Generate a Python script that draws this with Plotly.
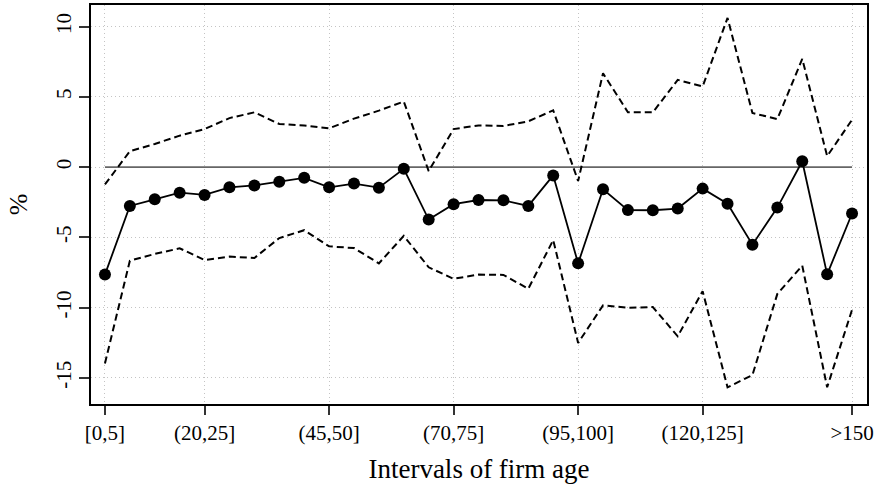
import plotly.graph_objects as go

categories = ["[0,5]"] + [f"({a},{a+5}]" for a in range(5, 150, 5)] + [">150"]

estimate = [-7.65, -2.76, -2.29, -1.82, -1.98, -1.44, -1.30, -1.04, -0.76, -1.44,
            -1.17, -1.46, -0.12, -3.73, -2.64, -2.34, -2.36, -2.76, -0.59, -6.85,
            -1.58, -3.06, -3.07, -2.95, -1.53, -2.60, -5.52, -2.88, 0.42, -7.63,
            -3.30]

upper = [-1.23, 1.13, 1.65, 2.24, 2.71, 3.49, 3.90, 3.07, 2.97, 2.76,
         3.45, 4.02, 4.67, -0.28, 2.71, 2.97, 2.93, 3.26, 4.04, -0.99,
         6.68, 3.91, 3.90, 6.21, 5.74, 10.62, 3.85, 3.42, 7.70, 0.78,
         3.37]

lower = [-13.97, -6.66, -6.18, -5.78, -6.61, -6.37, -6.47, -5.05, -4.49, -5.64,
         -5.76, -6.85, -4.89, -7.13, -7.95, -7.65, -7.67, -8.66, -5.19, -12.51,
         -9.84, -10.01, -9.96, -12.04, -8.83, -15.67, -14.80, -9.02, -7.01, -15.67,
         -10.15]

tick_labels = ["[0,5]", "(20,25]", "(45,50]", "(70,75]", "(95,100]", "(120,125]", ">150"]
y_ticks = [-15, -10, -5, 0, 5, 10]

font_family = "Liberation Serif, Times New Roman, serif"

fig = go.Figure()

# zero reference line
fig.add_trace(go.Scatter(
    x=[categories[0], categories[-1]], y=[0, 0], mode="lines",
    line=dict(color="#666666", width=1.6), hoverinfo="skip", showlegend=False))

fig.add_trace(go.Scatter(
    x=categories, y=upper, mode="lines",
    line=dict(color="black", width=2, dash="7px,4px"), showlegend=False))
fig.add_trace(go.Scatter(
    x=categories, y=lower, mode="lines",
    line=dict(color="black", width=2, dash="7px,4px"), showlegend=False))
fig.add_trace(go.Scatter(
    x=categories, y=estimate, mode="lines+markers",
    line=dict(color="black", width=1.8),
    marker=dict(color="black", size=12), showlegend=False))

fig.update_layout(
    width=878, height=491,
    margin=dict(l=91, r=11, t=3, b=87),
    paper_bgcolor="white", plot_bgcolor="white",
    font=dict(family=font_family, size=21, color="black"),
)

fig.update_xaxes(
    type="category",
    categoryorder="array", categoryarray=categories,
    range=[-0.56, 30.6],
    tickmode="array", tickvals=tick_labels, ticktext=tick_labels,
    showgrid=True, gridcolor="#c4c4c4", griddash="1px,3px", gridwidth=1,
    showline=True, linecolor="black", linewidth=2, mirror=True,
    ticks="outside", ticklen=9, tickcolor="#333333", tickwidth=1.5,
    tickfont=dict(size=21, family=font_family),
    title=dict(text="Intervals of firm age", font=dict(size=27, family=font_family), standoff=15),
    zeroline=False,
)

fig.update_yaxes(
    range=[-16.86, 11.54],
    tickmode="array", tickvals=y_ticks, ticktext=[str(v) for v in y_ticks],
    tickangle=-90,
    showgrid=True, gridcolor="#c4c4c4", griddash="1px,3px", gridwidth=1,
    showline=True, linecolor="black", linewidth=2, mirror=True,
    ticks="outside", ticklen=10, tickcolor="#333333", tickwidth=1.5,
    tickfont=dict(size=21, family=font_family),
    title=dict(text="%", font=dict(size=26, family=font_family), standoff=16),
    zeroline=False,
)

fig.write_html("out.html")
